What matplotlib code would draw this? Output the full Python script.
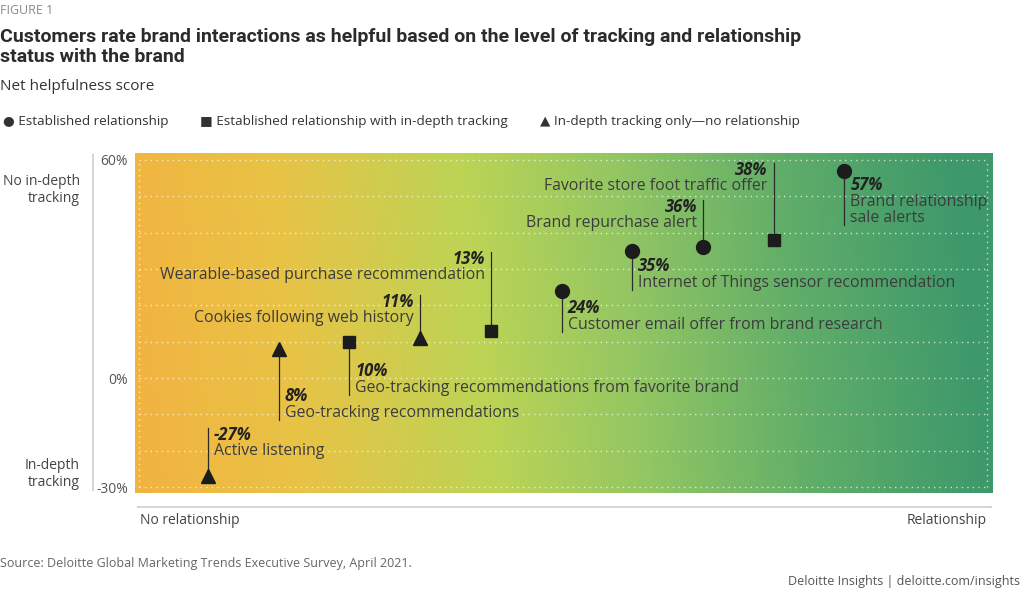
import matplotlib
matplotlib.use('Agg')
import matplotlib.pyplot as plt
from matplotlib.colors import LinearSegmentedColormap
import numpy as np

plt.rcParams['font.family'] = ['Open Sans', 'DejaVu Sans']

# data (net helpfulness score, %)
interactions = ['Active listening',
                'Geo-tracking recommendations',
                'Geo-tracking recommendations from favorite brand',
                'Cookies following web history',
                'Wearable-based purchase recommendation',
                'Customer email offer from brand research',
                'Internet of Things sensor recommendation',
                'Brand repurchase alert',
                'Favorite store foot traffic offer',
                'Brand relationship\nsale alerts']
scores = [-27, 8, 10, 11, 13, 24, 35, 36, 38, 57]
groups = ['tracking', 'tracking', 'both', 'tracking', 'both',
          'relationship', 'relationship', 'relationship', 'both', 'relationship']
group_labels = {'relationship': 'Established relationship',
                'both': 'Established relationship with in-depth tracking',
                'tracking': 'In-depth tracking only\u2014no relationship'}
yticks = [60, 0, -30]

# layout of the leader lines: end of the line (in % units) and side of the text
leader_end = [-13.8, -11.6, -4.7, 22.8, 34.7, 12.7, 24.2, 49, 59.2, 42]
text_side = ['right', 'right', 'right', 'left', 'left',
             'right', 'right', 'left', 'left', 'right']
markers = {'relationship': 'o', 'both': 's', 'tracking': '^'}
msizes = {'relationship': 10, 'both': 8.5, 'tracking': 10}

W, H = 1024, 593
fig = plt.figure(figsize=(W / 100, H / 100), dpi=100)


def fx(px):
    return px / W


def fy(py):
    return 1 - py / H


ax = fig.add_axes([fx(135), fy(493), fx(993 - 135), (493 - 153) / H])
x = np.arange(1, len(scores) + 1)
ax.set_xlim(-0.03, 12.1)
ax.set_ylim(-31.6, 61.9)

# background gradient
cmap = LinearSegmentedColormap.from_list('bg', [(0, '#f2b340'), (0.2, '#e8c346'),
                                                (0.42, '#bcd455'), (0.6, '#93c663'),
                                                (0.8, '#5fad69'), (1, '#3d986b')])
gx = np.linspace(0, 1, 400)
gy = np.linspace(0, 1, 50)
GX, GY = np.meshgrid(gx, gy)
grad = np.clip(GX + 0.04 * GY, 0, 1)
ax.imshow(grad, cmap=cmap, extent=[-0.03, 12.1, -31.6, 61.9], aspect='auto',
          origin='lower', zorder=0, vmin=0, vmax=1)

for g in range(-30, 61, 10):
    ax.plot([0.03, 12.02], [g, g], color='white', lw=1, ls=(0, (1, 3)), alpha=0.7, zorder=1)
for gxv in [0.03, 12.02]:
    ax.plot([gxv, gxv], [-30, 60], color='white', lw=1, ls=(0, (1, 3)), alpha=0.7, zorder=1)

for xi, s, grp, name, end, side in zip(x, scores, groups, interactions, leader_end, text_side):
    ax.plot([xi, xi], [s, end], color='#2a2a2a', lw=0.9, zorder=2)
    ax.plot(xi, s, marker=markers[grp], ms=msizes[grp], color='#1c1c1c', zorder=3, ls='none')
    dx = 6 if side == 'right' else -6
    ha = 'left' if side == 'right' else 'right'
    nlines = name.count('\n') + 1
    if end < s:
        # text sits above the lower end of the line
        ax.annotate(name, (xi, end), xytext=(dx, -1), textcoords='offset pixels',
                    ha=ha, va='bottom', fontsize=11.4, color='#3c3c3c', linespacing=1.0, zorder=4)
        ax.annotate(f'{s}%', (xi, end), xytext=(dx, 15 + 16 * (nlines - 1)),
                    textcoords='offset pixels', ha=ha, va='bottom', fontsize=12,
                    fontweight='bold', fontstyle='italic', color='#222222', zorder=4)
    else:
        ax.annotate(f'{s}%', (xi, end), xytext=(dx, 2), textcoords='offset pixels',
                    ha=ha, va='top', fontsize=12, fontweight='bold', fontstyle='italic',
                    color='#222222', zorder=4)
        ax.annotate(name, (xi, end), xytext=(dx, -15), textcoords='offset pixels',
                    ha=ha, va='top', fontsize=11.4, color='#3c3c3c', linespacing=1.0, zorder=4)

ax.set_xticks([])
ax.set_yticks(yticks)
ax.set_yticklabels([f'{t}%' for t in yticks], fontsize=10, color='#555555')
ax.tick_params(axis='y', length=0, pad=5)
for sp in ax.spines.values():
    sp.set_visible(False)

# axis arrows
arrow = dict(arrowstyle='<|-|>,head_length=0.4,head_width=0.2', color='#cfcfcf', lw=1.2,
             shrinkA=0, shrinkB=0)
fig.add_artist(matplotlib.patches.FancyArrowPatch((fx(93), fy(492)), (fx(93), fy(153)),
                                                  transform=fig.transFigure, **arrow))
fig.add_artist(matplotlib.patches.FancyArrowPatch((fx(136), fy(507)), (fx(993), fy(507)),
                                                  transform=fig.transFigure, **arrow))

fig.text(fx(80), fy(190), 'No in-depth\ntracking', ha='right', va='center', fontsize=10,
         color='#444444', linespacing=1.15)
fig.text(fx(80), fy(474), 'In-depth\ntracking', ha='right', va='center', fontsize=10,
         color='#444444', linespacing=1.15)
fig.text(fx(140), fy(520), 'No relationship', ha='left', va='center', fontsize=10, color='#444444')
fig.text(fx(987), fy(520), 'Relationship', ha='right', va='center', fontsize=10, color='#444444')

# titles
fig.text(0, fy(11), 'FIGURE 1', ha='left', va='center', fontsize=9, color='#8a8a8a')
fig.text(0, fy(47), 'Customers rate brand interactions as helpful based on the level of tracking '
         'and relationship\nstatus with the brand', ha='left', va='center', fontsize=14,
         fontweight='bold', color='#2b2b2b', linespacing=1.2,
         family=['Roboto', 'Open Sans'])
fig.text(0, fy(87), 'Net helpfulness score', ha='left', va='center', fontsize=11, color='#333333')

legend_x = [3, 200, 540]
for lx, grp in zip(legend_x, ['relationship', 'both', 'tracking']):
    sym = {'relationship': '\u25cf', 'both': '\u25a0', 'tracking': '\u25b2'}[grp]
    fig.text(fx(lx), fy(121), sym + ' ' + group_labels[grp], ha='left', va='center',
             fontsize=9.7, color='#333333', family=['Open Sans', 'DejaVu Sans'])

fig.text(0, fy(563), 'Source: Deloitte Global Marketing Trends Executive Survey, April 2021.',
         ha='left', va='center', fontsize=9, color='#666666')
fig.text(fx(1020), fy(582), 'Deloitte Insights | deloitte.com/insights', ha='right',
         va='center', fontsize=9, color='#555555')

fig.savefig('out.png', dpi=100)
